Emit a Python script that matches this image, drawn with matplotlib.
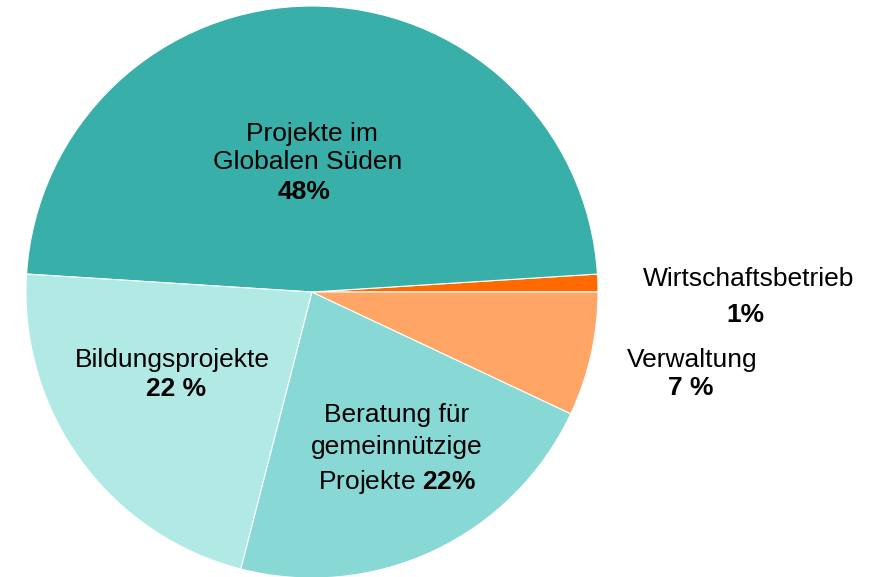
import matplotlib
matplotlib.use("Agg")
import matplotlib.pyplot as plt

plt.rcParams['font.family'] = ['Liberation Sans', 'DejaVu Sans']
plt.rcParams['mathtext.fontset'] = 'custom'
plt.rcParams['mathtext.rm'] = 'Liberation Sans'
plt.rcParams['mathtext.bf'] = 'Liberation Sans:bold'

# Daten (gegen den Uhrzeigersinn, ab 0 Grad)
kategorien = ['Wirtschaftsbetrieb', 'Projekte im Globalen Süden', 'Bildungsprojekte',
              'Beratung für gemeinnützige Projekte', 'Verwaltung']
anteile = [1, 48, 22, 22, 7]
farben = ['#FF6A00', '#38AFA9', '#B1E9E5', '#88D8D6', '#FFA566']

H = 577
fig = plt.figure(figsize=(8.81, 5.77), dpi=100)
ax = fig.add_axes([0, 0, 1, 1])

ax.pie(anteile, colors=farben, startangle=0, counterclock=True,
       center=(312, H - 292), radius=286, frame=True,
       wedgeprops=dict(linewidth=0.8, edgecolor='white'))
ax.set_xlim(0, 881)
ax.set_ylim(0, H)
ax.axis('off')

fs = 19


def zeile(x, y, s, bold=False):
    # y = Grundlinie in Pixeln von oben
    ax.text(x, H - y, s, ha='center', va='baseline', fontsize=fs,
            fontweight='bold' if bold else 'normal')


zeile(312, 141, 'Projekte im')
zeile(308, 169, 'Globalen Süden')
zeile(304, 199, '48%', bold=True)

zeile(172, 367, 'Bildungsprojekte')
zeile(176, 396, '22 %', bold=True)

zeile(397, 422, 'Beratung für')
zeile(397, 454, 'gemeinnützige')
zeile(397, 489, r'Projekte $\mathbf{22\%}$')

zeile(749, 286, 'Wirtschaftsbetrieb')
zeile(745, 322, '1%', bold=True)

zeile(692, 367, 'Verwaltung')
zeile(691, 395, '7 %', bold=True)

fig.savefig('out.png', dpi=100)
